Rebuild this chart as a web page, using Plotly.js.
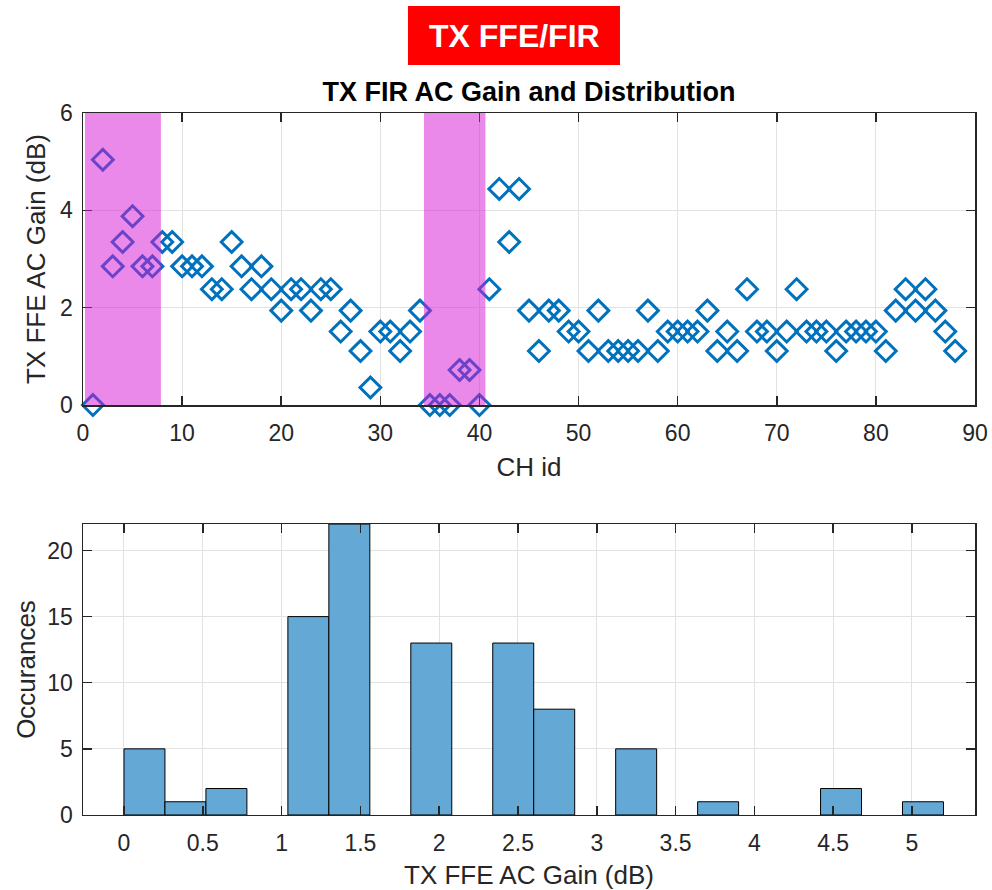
<!DOCTYPE html>
<html>
<head>
<meta charset="utf-8">
<script src="https://cdn.plot.ly/plotly-3.0.1.min.js"></script>
<style>html,body{margin:0;padding:0;background:#fff;}#chart{width:992px;height:890px;}</style>
</head>
<body>
<div id="chart"></div>
<script>
// Channel ids
const chId = [1,2,3,4,5,6,7,8,9,10,11,12,13,14,15,16,17,18,19,20,
  21,22,23,24,25,26,27,28,29,30,31,32,33,34,35,36,37,38,39,40,
  41,42,43,44,45,46,47,48,49,50,51,52,53,54,55,56,57,58,59,60,
  61,62,63,64,65,66,67,68,69,70,71,72,73,74,75,76,77,78,79,80,
  81,82,83,84,85,86,87,88];
// TX FFE AC gain (dB) per channel
const acGain = [0, 5.04, 2.85, 3.35, 3.88, 2.85, 2.85, 3.35, 3.35, 2.85,
  2.85, 2.85, 2.38, 2.38, 3.35, 2.85, 2.38, 2.85, 2.38, 1.94,
  2.38, 2.38, 1.94, 2.38, 2.38, 1.51, 1.94, 1.11, 0.36, 1.51,
  1.51, 1.11, 1.51, 1.94, 0, 0, 0, 0.72, 0.72, 0,
  2.38, 4.44, 3.35, 4.44, 1.94, 1.11, 1.94, 1.94, 1.51, 1.51,
  1.11, 1.94, 1.11, 1.11, 1.11, 1.11, 1.94, 1.11, 1.51, 1.51,
  1.51, 1.51, 1.94, 1.11, 1.51, 1.11, 2.38, 1.51, 1.51, 1.11,
  1.51, 2.38, 1.51, 1.51, 1.51, 1.11, 1.51, 1.51, 1.51, 1.51,
  1.11, 1.94, 2.38, 1.94, 2.38, 1.94, 1.51, 1.11];
// Highlighted channel ranges
const highlightStart = [0.2, 34.4];
const highlightEnd = [7.86, 40.6];
// Histogram binning
const binStart = 0;
const binEnd = 5.2;
const binSize = 0.26;
// Tick values
const xTicksTop = [0,10,20,30,40,50,60,70,80,90];
const yTicksTop = [0,2,4,6];
const xTicksBot = [0,0.5,1,1.5,2,2.5,3,3.5,4,4.5,5];
const xTickTextBot = ['0','0.5','1','1.5','2','2.5','3','3.5','4','4.5','5'];
const yTicksBot = [0,5,10,15,20];

const FONT = 'Liberation Sans, Arial, sans-serif';
const AXC = '#262626';

const scatter = {
  type: 'scatter', mode: 'markers', x: chId, y: acGain,
  xaxis: 'x', yaxis: 'y', cliponaxis: false, hoverinfo: 'x+y',
  marker: {symbol: 'diamond-open', size: 16, color: '#0072BD',
           line: {color: '#0072BD', width: 3}}
};
const hist = {
  type: 'histogram', x: acGain, xaxis: 'x2', yaxis: 'y2',
  autobinx: false, xbins: {start: binStart, end: binEnd, size: binSize},
  marker: {color: 'rgb(100,168,214)', line: {color: '#000', width: 1}}
};

function axisBase(extra) {
  return Object.assign({
    showline: true, linecolor: AXC, linewidth: 1.5, mirror: 'ticks',
    ticks: 'inside', ticklen: 9, tickwidth: 1.5, tickcolor: AXC,
    showgrid: true, gridcolor: '#e2e2e2', gridwidth: 1, zeroline: false,
    tickfont: {family: FONT, size: 23, color: AXC}, automargin: false
  }, extra);
}

const shapes = highlightStart.map((s, i) => ({
  type: 'rect', xref: 'x', yref: 'y', x0: s, x1: highlightEnd[i], y0: 0, y1: 6.02,
  fillcolor: 'rgba(214,20,214,0.5)', line: {width: 0}, layer: 'above'
}));
shapes.push({type: 'rect', xref: 'paper', yref: 'paper', x0: 0.3643, x1: 0.6020,
  y0: 0.92697, y1: 0.99326, fillcolor: '#ff0000', line: {width: 0}, layer: 'above'});

const layout = {
  width: 992, height: 890, margin: {l: 83, r: 17, t: 0, b: 0},
  paper_bgcolor: '#fff', plot_bgcolor: '#fff', showlegend: false, bargap: 0,
  title: {text: '<b>TX FIR AC Gain and Distribution</b>', font: {family: FONT, size: 27, color: '#000'},
          x: 0.5, xref: 'paper', y: 1 - 92/890, yref: 'container', yanchor: 'middle'},
  xaxis: axisBase({anchor: 'y', domain: [0, 1], range: [0, 90], tickvals: xTicksTop, ticklabelstandoff: 7,
    title: {text: 'CH id', font: {family: FONT, size: 26, color: AXC}, standoff: 12}}),
  yaxis: axisBase({anchor: 'x', domain: [0.5449, 0.8730], range: [0, 6], tickvals: yTicksTop, ticklabelstandoff: 4,
    title: {text: 'TX FFE AC Gain (dB)', font: {family: FONT, size: 26, color: AXC}, standoff: 7}}),
  xaxis2: axisBase({anchor: 'y2', domain: [0, 1], range: [-0.26, 5.4], tickvals: xTicksBot, ticktext: xTickTextBot, ticklabelstandoff: 7,
    title: {text: 'TX FFE AC Gain (dB)', font: {family: FONT, size: 26, color: AXC}, standoff: 12}}),
  yaxis2: axisBase({anchor: 'x2', domain: [0.0843, 0.4112], range: [0, 22], tickvals: yTicksBot, ticklabelstandoff: 4,
    title: {text: 'Occurances', font: {family: FONT, size: 26, color: AXC}, standoff: 4}}),
  shapes: shapes,
  annotations: [{xref: 'paper', yref: 'paper', x: 0.4832, y: 1 - 36/890, xanchor: 'center', yanchor: 'middle',
    text: '<b>TX FFE/FIR</b>', showarrow: false, font: {family: FONT, size: 32, color: '#fff'}}]
};

Plotly.newPlot('chart', [scatter, hist], layout, {staticPlot: true, displayModeBar: false});
</script>
</body>
</html>
